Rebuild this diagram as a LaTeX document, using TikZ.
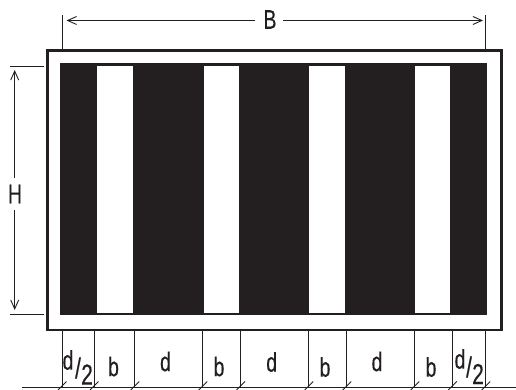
\documentclass[tikz,border=0pt]{standalone}
\usepackage{fontspec}
\setmainfont[FakeStretch=0.72,FakeBold=0.4]{Liberation Sans}
\usetikzlibrary{arrows.meta,calc}
\definecolor{ink}{HTML}{231F20}
\tikzset{
  x=1pt,y=-1pt,
  dimline/.style={draw=ink,line width=0.9pt},
  barb/.tip={Straight Barb[length=9pt,width=8pt,line width=0.9pt]},
  lab/.style={text=ink,inner sep=0pt,font=\fontsize{27}{27}\selectfont},
  big/.style={text=ink,inner sep=0pt,font=\fontsize{29}{29}\selectfont}
}
\begin{document}
\begin{tikzpicture}
\useasboundingbox (0,0) rectangle (516,390);
% frame and black panel
\draw[draw=ink,line width=2.6pt] (47.3,50.5) rectangle (501.3,330);
\fill[ink] (60,63) rectangle (487,315);
\foreach \a/\b in {97/133,203.5/238.7,309.3/345.3,414.7/450.3}
  \fill[white] (\a,66) rectangle (\b,313);
% top dimension
\coordinate (bl) at (62,15); \coordinate (blb) at (62,50);
\coordinate (br) at (485.5,15); \coordinate (brb) at (485.5,50);
\draw[dimline] (bl) -- (blb);
\draw[dimline] (br) -- (brb);
\coordinate (ba) at (66.5,20.5); \coordinate (bb) at (483,20.5);
\node[lab] (B) at (270,19.5) {B};
\coordinate (bgl) at (255,20.5); \coordinate (bgr) at (283,20.5);
\draw[dimline,barb-] (ba) -- (bgl);
\draw[dimline,-barb] (bgr) -- (bb);
% left dimension
\coordinate (ht) at (10,66); \coordinate (hte) at (44,66);
\coordinate (hb) at (10,314.5); \coordinate (hbe) at (44,314.5);
\draw[dimline] (ht) -- (hte);
\draw[dimline] (hb) -- (hbe);
\coordinate (ha) at (14.7,70); \coordinate (hc) at (14.7,310);
\node[lab] (H) at (15,194) {H};
\draw[dimline,barb-] (ha) -- ($(H.north)+(-0.3,-7)$);
\draw[dimline,-barb] ($(H.south)+(-0.3,7)$) -- (hc);
% bottom dimension chain
\coordinate (cl) at (22,387); \coordinate (cr) at (516,387);
\draw[dimline] (cl) -- (cr);
\foreach \x in {62,94,134.7,202.7,240.5,308.7,346.7,414.7,452.3,485.7}{
  \coordinate (tt) at (\x,331); \coordinate (tb) at (\x,387);
  \draw[dimline] (tt) -- (tb);
  \coordinate (sa) at (\x-4,390); \coordinate (sb) at (\x+4.5,381.5);
  \draw[dimline] (sa) -- (sb);
}
\node[lab] (d1) at (68,360) {d};
\node[big] (s1) at (78,368) {/};
\node[big] (t1) at (87,374.5) {2};
\node[lab] (b1) at (113.5,366.5) {b};
\node[lab] (d2) at (165.5,361.5) {d};
\node[lab] (b2) at (219,366.5) {b};
\node[lab] (d3) at (271.7,362) {d};
\node[lab] (b3) at (325,367) {b};
\node[lab] (d4) at (377,361.5) {d};
\node[lab] (b4) at (431,367) {b};
\node[lab] (d5) at (460,359) {d};
\node[big] (s2) at (469,367) {/};
\node[big] (t2) at (478,374) {2};
\end{tikzpicture}
\end{document}
